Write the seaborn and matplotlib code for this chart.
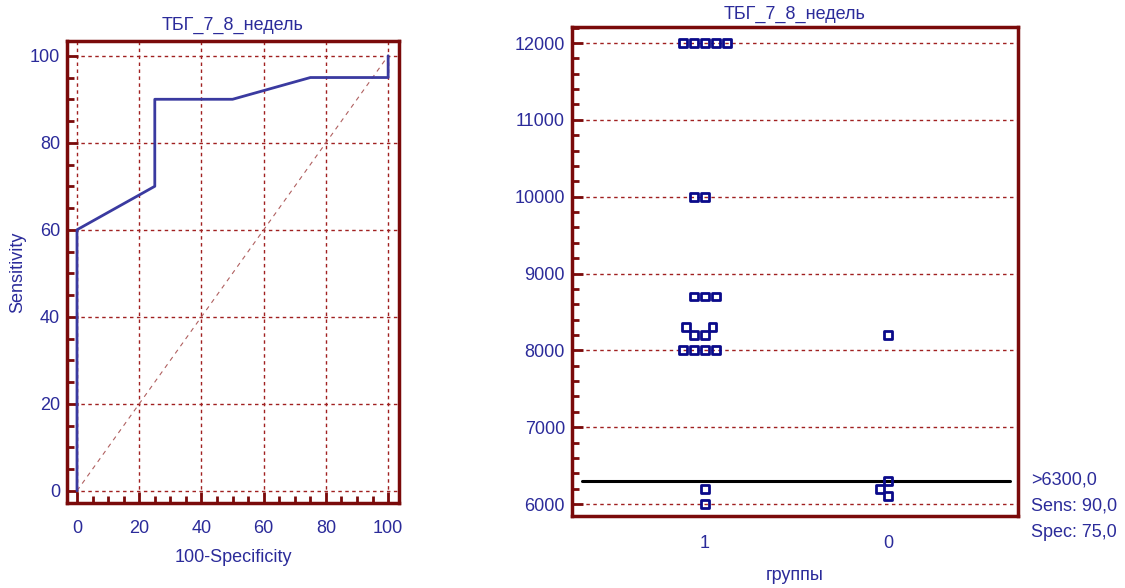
import numpy as np
import pandas as pd
import seaborn as sns
import matplotlib
matplotlib.use('Agg')
from matplotlib import pyplot as plt
from matplotlib.ticker import MultipleLocator

# ROC curve points (100-Specificity, Sensitivity)
roc_fpr = [0, 0, 25, 25, 50, 75, 100, 100]
roc_tpr = [0, 60, 70, 90, 90, 95, 95, 100]

# dot plot values per group
group1_vals = [12000, 12000, 12000, 12000, 12000, 10000, 10000,
               8700, 8700, 8700, 8300, 8300, 8200, 8200,
               8000, 8000, 8000, 8000, 6200, 6000]
group0_vals = [8200, 6300, 6200, 6100]
group_labels = ['1', '0']
cutoff = 6300
cutoff_text = ['>6300,0', 'Sens: 90,0', 'Spec: 75,0']
title = 'ТБГ_7_8_недель'

df = pd.DataFrame({
    'группы': ['1'] * len(group1_vals) + ['0'] * len(group0_vals),
    'value': group1_vals + group0_vals,
})

sns.set_style('white')
plt.rcParams['font.family'] = ['Liberation Sans Narrow', 'Liberation Sans', 'DejaVu Sans']

spine_col = '#7a0a0a'
grid_col = '#a02020'
text_col = '#2b2b9a'
line_col = '#3a3aa0'
mark_col = '#0a0a8a'

fig = plt.figure(figsize=(11.25, 5.88), dpi=100)
ax1 = fig.add_axes([0.0596, 0.1446, 0.2951, 0.7857])
ax2 = fig.add_axes([0.5084, 0.1224, 0.3964, 0.8316])


def style_axes(ax):
    for s in ax.spines.values():
        s.set_color(spine_col)
        s.set_linewidth(2.5)
        s.set_visible(True)
    ax.grid(True, which='major', color=grid_col, linestyle=(0, (2.5, 2.5)), linewidth=1)
    ax.tick_params(which='major', direction='in', length=8, width=2, color=spine_col,
                   labelcolor=text_col, labelsize=13, pad=5)
    ax.tick_params(which='minor', direction='in', length=5, width=2, color=spine_col)
    ax.set_facecolor('white')


# ---- left: ROC curve
style_axes(ax1)
ax1.plot([0, 100], [0, 100], color='#b06060', linestyle=(0, (4, 4)), linewidth=0.8)
sns.lineplot(x=roc_fpr, y=roc_tpr, sort=False, estimator=None, ax=ax1,
             color=line_col, linewidth=2)
ax1.set_xlim(-3.2, 103.5)
ax1.set_ylim(-2.8, 103.4)
ax1.xaxis.set_major_locator(MultipleLocator(20))
ax1.xaxis.set_minor_locator(MultipleLocator(5))
ax1.yaxis.set_major_locator(MultipleLocator(20))
ax1.yaxis.set_minor_locator(MultipleLocator(5))
ax1.tick_params(axis='x', which='both', bottom=True, top=False, pad=12)
ax1.tick_params(axis='y', which='both', left=True, right=False)
ax1.set_xlabel('100-Specificity', color=text_col, fontsize=13)
ax1.xaxis.set_label_coords(0.5, -0.10)
ax1.set_ylabel('Sensitivity', color=text_col, fontsize=13)
ax1.yaxis.set_label_coords(-0.148, 0.5)
ax1.yaxis.label.set_va('center')
ax1.set_title(title, color=text_col, fontsize=13, pad=8)

# ---- right: dot plot
style_axes(ax2)
sns.swarmplot(data=df, x='группы', y='value', order=group_labels, ax=ax2,
              marker='s', size=5.6, color=mark_col, linewidth=2, zorder=3)
for c in ax2.collections:
    c.set_facecolor('none')
    c.set_edgecolor(mark_col)
ax2.axhline(cutoff, xmin=0.022, xmax=0.982, color='black', linewidth=2.2, zorder=2)
ax2.set_xlim(-0.727, 1.71)
ax2.set_ylim(5844, 12208)
ax2.yaxis.set_major_locator(MultipleLocator(1000))
ax2.yaxis.set_minor_locator(MultipleLocator(200))
ax2.tick_params(axis='x', which='both', bottom=False, top=False, pad=14)
ax2.tick_params(axis='y', which='both', left=True, right=False)
ax2.set_ylabel('')
ax2.set_xlabel('группы', color=text_col, fontsize=13)
ax2.xaxis.set_label_coords(0.5, -0.104)
ax2.set_title(title, color=text_col, fontsize=13, pad=6)
for i, t in enumerate(cutoff_text):
    ax2.text(1.03, 0.073 - i * 0.053, t, transform=ax2.transAxes, color=text_col,
             fontsize=13, ha='left', va='center')

fig.savefig('out.png', dpi=100, facecolor='white')
